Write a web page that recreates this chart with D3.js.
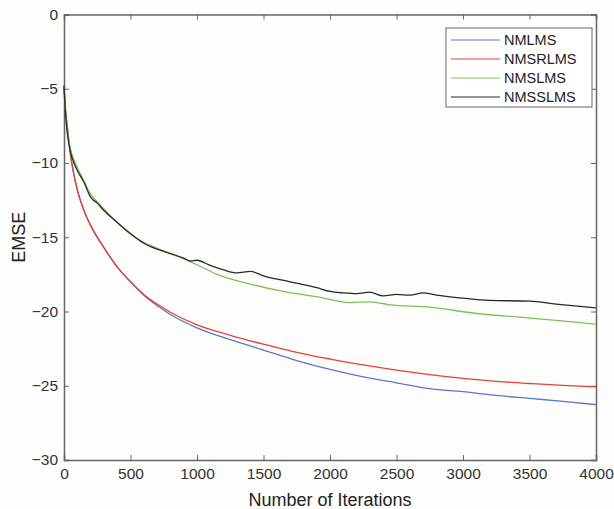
<!DOCTYPE html>
<html>
<head>
<meta charset="utf-8">
<script src="https://cdn.jsdelivr.net/npm/d3@7"></script>
<style>
  body { margin: 0; background: #fdfdfb; }
  svg { display: block; font-family: "Liberation Sans", Arial, sans-serif; }
</style>
</head>
<body>
<div id="chart"></div>
<script>
// curve samples: [iteration, EMSE]
var nmlms = [[0,-4.8],[10,-6.3],[25,-7.6],[50,-9.5],[75,-10.8],[100,-11.8],[150,-13.2],[200,-14.2],[300,-15.7],[400,-17.0],[500,-18.0],[600,-18.9],[700,-19.6],[800,-20.2],[1000,-21.1],[1250,-21.9],[1500,-22.6],[1750,-23.3],[2000,-23.9],[2250,-24.4],[2500,-24.8],[2750,-25.2],[3000,-25.4],[3250,-25.65],[3500,-25.85],[3750,-26.05],[4000,-26.27]];
var nmsrlms = [[0,-4.8],[10,-6.3],[25,-7.6],[50,-9.5],[75,-10.8],[100,-11.8],[150,-13.2],[200,-14.2],[300,-15.7],[400,-17.0],[500,-18.0],[600,-18.85],[700,-19.5],[800,-20.05],[1000,-20.9],[1250,-21.6],[1500,-22.2],[1750,-22.75],[2000,-23.2],[2250,-23.6],[2500,-23.95],[2750,-24.25],[3000,-24.5],[3250,-24.7],[3500,-24.85],[3750,-24.98],[4000,-25.07]];
var nmslms = [[0,-4.8],[10,-6.4],[25,-7.9],[50,-9.1],[75,-9.8],[100,-10.3],[150,-11.2],[200,-12.1],[250,-12.6],[300,-13.1],[400,-14.0],[500,-14.8],[600,-15.35],[700,-15.75],[800,-16.1],[900,-16.45],[1000,-16.85],[1150,-17.5],[1400,-18.15],[1650,-18.65],[1900,-19.0],[2150,-19.4],[2300,-19.35],[2450,-19.55],[2750,-19.7],[3075,-20.1],[3450,-20.4],[3700,-20.6],[4000,-20.85]];
var nmsslms = [[0,-4.8],[10,-6.5],[25,-8.0],[50,-9.3],[75,-10.0],[100,-10.5],[150,-11.3],[200,-12.3],[250,-12.7],[300,-13.2],[400,-14.0],[500,-14.75],[600,-15.4],[700,-15.8],[800,-16.1],[900,-16.4],[950,-16.6],[1000,-16.55],[1100,-16.9],[1200,-17.2],[1300,-17.4],[1400,-17.3],[1500,-17.6],[1700,-18.0],[1900,-18.4],[2000,-18.65],[2100,-18.75],[2200,-18.8],[2300,-18.7],[2400,-18.95],[2500,-18.85],[2600,-18.9],[2700,-18.75],[2800,-18.9],[3000,-19.1],[3200,-19.25],[3500,-19.3],[3700,-19.5],[4000,-19.76]];

var seriesNames = ["NMLMS", "NMSRLMS", "NMSLMS", "NMSSLMS"];
var seriesColors = ["#5a78cc", "#e3403c", "#7cc155", "#2a2a2a"];
var seriesData = [nmlms, nmsrlms, nmslms, nmsslms];
var xTicks = [0, 500, 1000, 1500, 2000, 2500, 3000, 3500, 4000];
var yTicks = [0, -5, -10, -15, -20, -25, -30];

var width = 614, height = 509;
var margin = {top: 14.5, right: 18, bottom: 49, left: 64};
var fontFam = "'Liberation Sans', Arial, sans-serif";

var svg = d3.select("#chart").append("svg")
    .attr("width", width)
    .attr("height", height);

var x = d3.scaleLinear().domain([0, 4000]).range([margin.left, width - margin.right]);
var y = d3.scaleLinear().domain([-30, 0]).range([height - margin.bottom, margin.top]);

var axisColor = "#666";

// axes, ticks inward like matlab
var gx = svg.append("g").attr("transform", "translate(0," + y(-30) + ")")
    .call(d3.axisBottom(x).tickValues(xTicks).tickSize(-5).tickPadding(8).tickFormat(d3.format("d")));
var gxTop = svg.append("g").attr("transform", "translate(0," + y(0) + ")")
    .call(d3.axisTop(x).tickValues(xTicks).tickSize(-5).tickFormat(""));
var gy = svg.append("g").attr("transform", "translate(" + x(0) + ",0)")
    .call(d3.axisLeft(y).tickValues(yTicks).tickSize(-5).tickPadding(6).tickFormat(d3.format("d")));
var gyRight = svg.append("g").attr("transform", "translate(" + x(4000) + ",0)")
    .call(d3.axisRight(y).tickValues(yTicks).tickSize(-5).tickFormat(""));

[gx, gxTop, gy, gyRight].forEach(function(g) {
  g.select(".domain").attr("stroke", axisColor).attr("stroke-width", 1.5);
  g.selectAll(".tick line").attr("stroke", axisColor).attr("stroke-width", 1);
  g.selectAll(".tick text").attr("fill", "#333").style("font-size", "15.5px").style("font-family", fontFam);
});

// axis titles
svg.append("text")
    .attr("x", x(2000)).attr("y", 506)
    .attr("text-anchor", "middle")
    .style("font-size", "18px").style("font-family", fontFam).attr("fill", "#222")
    .text("Number of Iterations");

svg.append("text")
    .attr("transform", "translate(25," + y(-15) + ") rotate(-90)")
    .attr("text-anchor", "middle")
    .style("font-size", "18px").style("font-family", fontFam).attr("fill", "#222")
    .text("EMSE");

// curves
var line = d3.line()
    .x(d => x(d[0]))
    .y(d => y(d[1]))
    .curve(d3.curveMonotoneX);

seriesData.forEach(function(s, i) {
  svg.append("path")
      .datum(s)
      .attr("fill", "none")
      .attr("stroke", seriesColors[i])
      .attr("stroke-width", 1.3)
      .attr("d", line);
});

// legend
var lg = svg.append("g").attr("transform", "translate(446,28)");
lg.append("rect")
    .attr("width", 146).attr("height", 79)
    .attr("fill", "#fff").attr("stroke", axisColor).attr("stroke-width", 1);

seriesNames.forEach(function(name, i) {
  var yy = 12 + i * 19;
  lg.append("line")
      .attr("x1", 5).attr("x2", 54).attr("y1", yy).attr("y2", yy)
      .attr("stroke", seriesColors[i]).attr("stroke-width", 1.2);
  lg.append("text")
      .attr("x", 58).attr("y", yy + 5)
      .style("font-size", "14.5px").style("font-family", fontFam).attr("fill", "#222")
      .text(name);
});
</script>
</body>
</html>
